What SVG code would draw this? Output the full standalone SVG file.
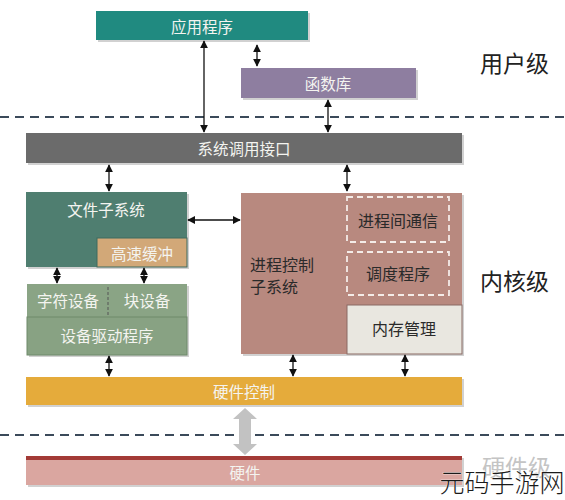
<svg xmlns="http://www.w3.org/2000/svg" width="565" height="500" viewBox="0 0 565 500">
<defs>
<style>
text{font-family:"Noto Sans CJK SC","Noto Sans",sans-serif;text-anchor:middle;dominant-baseline:central}
.w{fill:#f4f4f0;font-size:15.5px}
.d{fill:#2a2a2a;font-size:16px}
.lvl{fill:#222;font-size:23px;text-anchor:start}
.sh{fill:#000;opacity:0.18}
.c line{stroke:#111;stroke-width:1.3}
.sep{stroke:#3b4a5a;stroke-width:2.2;stroke-dasharray:9 6}
</style>
<marker id="a" viewBox="0 0 10 10" refX="9" refY="5" markerWidth="8" markerHeight="8" orient="auto-start-reverse" markerUnits="userSpaceOnUse">
<path d="M0,0 L10,5 L0,10 z" fill="#111"/>
</marker>
</defs>
<rect width="565" height="500" fill="#ffffff"/>

<line class="sep" x1="0" y1="117" x2="565" y2="117"/>
<line class="sep" x1="0" y1="435" x2="565" y2="435"/>

<g id="app">
<rect class="sh" x="98" y="13" width="212" height="29"/>
<rect x="96" y="11" width="212" height="29" fill="#208a80"/>
<text class="w" x="202" y="26">应用程序</text>
</g>
<g id="lib">
<rect class="sh" x="243" y="70" width="175" height="30"/>
<rect x="241" y="68" width="175" height="30" fill="#8e7ea0"/>
<text class="w" x="328" y="83">函数库</text>
</g>
<g id="syscall">
<rect class="sh" x="28" y="135" width="436" height="30"/>
<rect x="26" y="133" width="436" height="30" fill="#6b6b6b"/>
<text class="w" x="244" y="148">系统调用接口</text>
</g>
<g id="fs">
<rect class="sh" x="28" y="194" width="161" height="75"/>
<rect x="26" y="192" width="161" height="75" fill="#4f7e70"/>
<text class="w" x="106" y="209">文件子系统</text>
</g>
<g id="cache">
<rect x="97" y="238" width="90" height="29" fill="#d2a878" stroke="#3e6a5e" stroke-width="1"/>
<text class="w" x="142" y="253">高速缓冲</text>
</g>
<g id="dev">
<rect class="sh" x="29" y="286" width="160" height="71"/>
<rect x="27" y="284" width="160" height="33" fill="#8aa485"/>
<line x1="108" y1="287" x2="108" y2="317" stroke="#555" stroke-width="1" stroke-dasharray="3 2"/>
<text class="w" x="68" y="300">字符设备</text>
<text class="w" x="147" y="300">块设备</text>
</g>
<g id="driver">
<rect x="27" y="317" width="160" height="38" fill="#88a283" stroke="#6e8a6a" stroke-width="1"/>
<text class="w" x="107" y="335">设备驱动程序</text>
</g>
<g id="proc">
<rect class="sh" x="243" y="195" width="221" height="161"/>
<rect x="241" y="193" width="221" height="161" fill="#b8897f"/>
<text class="d" x="250" y="264" style="text-anchor:start">进程控制</text>
<text class="d" x="250" y="286" style="text-anchor:start">子系统</text>
</g>
<g id="ipc">
<rect x="347" y="197" width="102" height="45" fill="none" stroke="#f4ece8" stroke-width="1.8" stroke-dasharray="6 4"/>
<text class="d" x="398" y="220">进程间通信</text>
</g>
<g id="sched">
<rect x="347" y="252" width="102" height="43" fill="none" stroke="#f4ece8" stroke-width="1.8" stroke-dasharray="6 4"/>
<text class="d" x="398" y="273">调度程序</text>
</g>
<g id="mem">
<rect x="347" y="305" width="115" height="49" fill="#e9e7e0" stroke="#8a6a64" stroke-width="1"/>
<text class="d" x="404" y="328">内存管理</text>
</g>
<g id="hwctl">
<rect class="sh" x="28" y="379" width="436" height="28"/>
<rect x="26" y="377" width="436" height="28" fill="#e5ab3b"/>
<text class="w" x="244" y="391">硬件控制</text>
</g>
<g id="hw">
<rect class="sh" x="28" y="458" width="436" height="29"/>
<rect x="26" y="456" width="436" height="29" fill="#daa6a0"/>
<rect x="26" y="456" width="436" height="4" fill="#a33a36"/>
<text class="w" x="245" y="472">硬件</text>
</g>

<g id="levels">
<text class="lvl" x="480" y="62">用户级</text>
<text class="lvl" x="480" y="280">内核级</text>
<text class="lvl" x="482" y="466" style="fill:#c4c4c4">硬件级</text>
</g>

<g class="c" id="connectors">
<line x1="204" y1="41" x2="204" y2="132" marker-start="url(#a)" marker-end="url(#a)"/>
<line x1="257" y1="45" x2="257" y2="66" marker-start="url(#a)" marker-end="url(#a)"/>
<line x1="328" y1="100" x2="328" y2="132" marker-start="url(#a)" marker-end="url(#a)"/>
<line x1="109" y1="165" x2="109" y2="191" marker-start="url(#a)" marker-end="url(#a)"/>
<line x1="347" y1="165" x2="347" y2="191" marker-start="url(#a)" marker-end="url(#a)"/>
<line x1="188" y1="220" x2="240" y2="220" marker-start="url(#a)" marker-end="url(#a)"/>
<line x1="57" y1="268" x2="57" y2="283" marker-start="url(#a)" marker-end="url(#a)"/>
<line x1="144" y1="268" x2="144" y2="283" marker-start="url(#a)" marker-end="url(#a)"/>
<line x1="109" y1="356" x2="109" y2="376" marker-start="url(#a)" marker-end="url(#a)"/>
<line x1="293" y1="355" x2="293" y2="376" marker-start="url(#a)" marker-end="url(#a)"/>
<line x1="405" y1="355" x2="405" y2="376" marker-start="url(#a)" marker-end="url(#a)"/>
<path d="M245,408 L257,419 L251,419 L251,444 L257,444 L245,455 L233,444 L239,444 L239,419 L233,419 Z" fill="#c2c2c2"/>
</g>

<text x="502" y="481" style="font-size:25px;fill:#1a1a1a;font-weight:300;stroke:#ffffff;stroke-width:0.6;paint-order:stroke">元码手游网</text>
</svg>
